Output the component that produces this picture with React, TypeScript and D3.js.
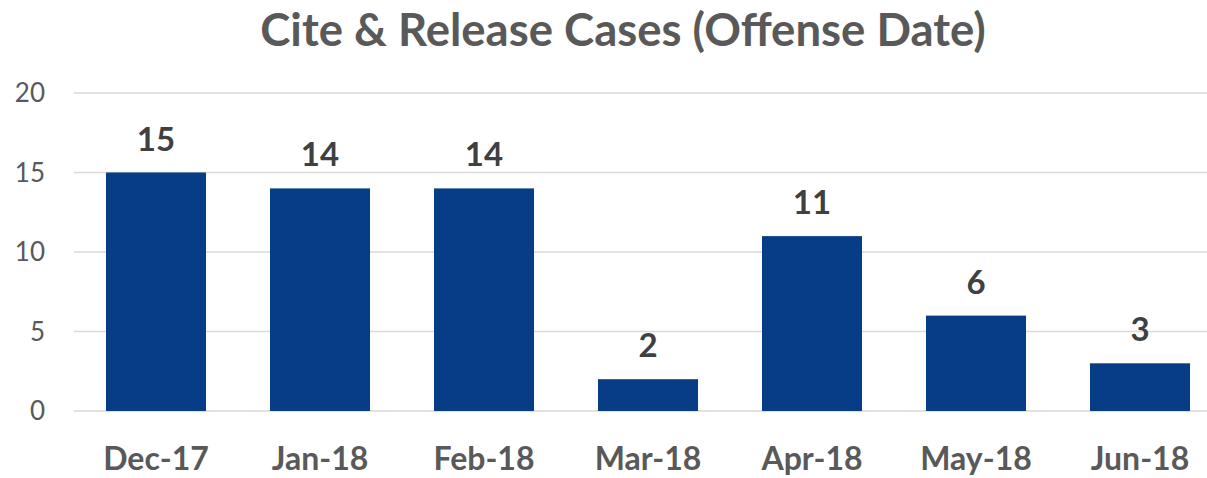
import React from "react";
import * as d3 from "d3";

const width = 1207;
const height = 478;

const categories = ["Dec-17", "Jan-18", "Feb-18", "Mar-18", "Apr-18", "May-18", "Jun-18"];
const cases = [15, 14, 14, 2, 11, 6, 3];
const yTicks = [0, 5, 10, 15, 20];

const font = "Lato, 'Open Sans', sans-serif";

const App = () => {
  // plot area runs a bit past the right edge, like the original
  const x = d3.scaleBand().domain(categories).range([74, 1222]).paddingInner(0.39).paddingOuter(0.195);
  const y = d3.scaleLinear().domain([0, 20]).range([411, 93]);

  return (
    <svg
      width={width}
      height={height}
      style={{ position: "absolute", left: 0, top: 0, background: "#fff", overflow: "hidden" }}
    >
      <text x={623} y={46} textAnchor="middle" fontFamily={font} fontWeight="bold" fontSize={45.5} fill="#595959">
        Cite &amp; Release Cases (Offense Date)
      </text>

      {yTicks.map(t => (
        <g key={t}>
          <line x1={74} x2={width} y1={y(t)} y2={y(t)} stroke="#d9d9d9" strokeWidth={1.5} />
          <text x={45} y={y(t)} dy="0.35em" textAnchor="end" fontFamily={font} fontSize={26} fill="#595959">
            {t}
          </text>
        </g>
      ))}

      {categories.map((c, i) => (
        <g key={c}>
          <rect x={x(c)} y={y(cases[i])} width={x.bandwidth()} height={y(0) - y(cases[i])} fill="#073d87" />
          <text
            x={(x(c) as number) + x.bandwidth() / 2}
            y={y(cases[i]) - 22}
            textAnchor="middle"
            fontFamily={font}
            fontWeight="bold"
            fontSize={33}
            fill="#404040"
          >
            {cases[i]}
          </text>
          <text
            x={(x(c) as number) + x.bandwidth() / 2}
            y={470}
            textAnchor="middle"
            fontFamily={font}
            fontWeight="bold"
            fontSize={32}
            fill="#595959"
          >
            {c}
          </text>
        </g>
      ))}
    </svg>
  );
};

export default App;
